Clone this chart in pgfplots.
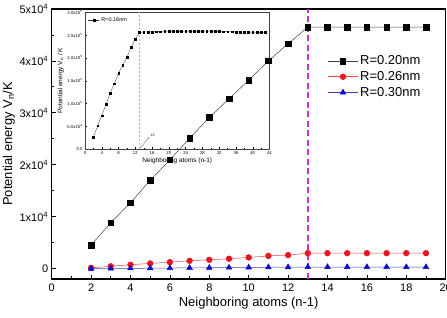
\documentclass[border=0pt]{standalone}
\usepackage{pgfplots}
\pgfplotsset{compat=1.18}
\usetikzlibrary{arrows.meta}
\usepackage{fontspec}
\setmainfont{Liberation Sans}
\setsansfont{Liberation Sans}

\definecolor{vline}{RGB}{204,51,204}
\definecolor{vlinelight}{RGB}{225,150,225}
\definecolor{sred}{RGB}{235,20,30}
\definecolor{sblue}{RGB}{10,10,200}

% inset series, R = 0.16 nm
\pgfplotstableread{
x y
2 26300
3 51700
4 73600
5 98500
6 123300
7 143600
8 167100
9 183900
10 201500
11 223400
12 240900
13 256200
14 256500
15 257000
16 257000
17 257500
18 257800
19 258000
20 258000
21 258000
22 258200
23 258300
24 258300
25 258300
26 258400
27 258400
28 258400
29 258300
30 258300
31 258300
32 258200
33 257800
34 257600
35 257500
36 257300
37 257100
38 256800
39 256600
40 256400
41 256200
42 256000
43 255800
}\tabRsixteen

% main series
\pgfplotstableread{
x y
2 4550
3 8820
4 12700
5 17000
6 20950
7 25100
8 29100
9 32700
10 36300
11 40000
12 43300
13 46500
14 46500
15 46500
16 46500
17 46500
18 46500
19 46500
}\tabRtwenty

\pgfplotstableread{
x y
2 150
3 450
4 750
5 1000
6 1250
7 1500
8 1700
9 1900
10 2150
11 2450
12 2600
13 2980
14 2980
15 2980
16 2980
17 2980
18 2980
19 2980
}\tabRtwentysix

\pgfplotstableread{
x y
2 0
3 20
4 50
5 80
6 110
7 140
8 170
9 200
10 230
11 260
12 280
13 300
14 300
15 300
16 300
17 300
18 300
19 300
}\tabRthirty

\begin{document}
\begin{tikzpicture}
\useasboundingbox (0,0) rectangle (447bp,318bp);

% ---------- inset ----------
\begin{axis}[
  at={(85bp,168.7bp)}, anchor=south west,
  scale only axis, width=184.5bp, height=137bp,
  xmin=0, xmax=44, ymin=0, ymax=300000,
  scaled y ticks=false, scaled x ticks=false,
  xtick={0,4,...,44}, minor x tick num=1,
  ytick={0,50000,100000,150000,200000,250000,300000},
  yticklabels={0.0,5.0x10\textsuperscript{4},1.0x10\textsuperscript{5},1.5x10\textsuperscript{5},2.0x10\textsuperscript{5},2.5x10\textsuperscript{5},3.0x10\textsuperscript{5}},
  minor y tick num=1,
  xtick pos=left, ytick pos=left,
  tick align=inside,
  major tick length=2bp, minor tick length=1.2bp,
  every tick/.style={black, line width=0.3pt},
  axis line style={line width=0.6pt, black!75},
  /pgf/number format/assume math mode=true,
  tick label style={font=\fontsize{4.3}{5}\selectfont},
  xticklabel style={yshift=1bp},
  yticklabel style={xshift=1bp},
  label style={font=\fontsize{6.5}{7.5}\selectfont},
  xlabel={Neighboring atoms (n-1)},
  ylabel={Potential energy V\textsubscript{n} / K},
  xlabel style={yshift=3.5bp},
  ylabel style={yshift=-3bp},
  legend style={at={(0.016,0.944)}, anchor=west, draw=none, fill=none,
    inner sep=0pt, font=\fontsize{5.5}{6.5}\selectfont},
  legend image code/.code={\draw[mark repeat=2,mark phase=2,#1]
    plot coordinates {(0bp,0bp)(5.5bp,0bp)(11bp,0bp)};},
]
\draw[vlinelight, dash pattern=on 2.5bp off 1.5bp, line width=0.8pt] (axis cs:13,0) -- (axis cs:13,300000);
\draw[black!70, line width=0.3pt, -{Latex[length=1.2bp]}] (axis cs:13.2,2800) -- (axis cs:15.3,27000);
\node[anchor=south west, inner sep=0pt, font=\fontsize{3.5}{4}\selectfont] at (axis cs:15.6,28000) {13};
\addplot[black!80, line width=0.3pt, mark=square*, mark size=0.9pt,
  mark options={black, solid}] table {\tabRsixteen};
\addlegendentry{R=0.16nm}
\end{axis}

% ---------- main axes ----------
\begin{axis}[
  at={(51.7bp,39bp)}, anchor=south west,
  scale only axis, width=394bp, height=270bp,
  xmin=0, xmax=20, ymin=-2000, ymax=50000,
  scaled y ticks=false,
  xtick={0,2,...,20}, minor x tick num=1,
  ytick={0,10000,20000,30000,40000,50000},
  yticklabels={0,1x10\textsuperscript{4},2x10\textsuperscript{4},3x10\textsuperscript{4},4x10\textsuperscript{4},5x10\textsuperscript{4}},
  minor y tick num=1,
  xtick pos=left, ytick pos=left,
  tick align=inside,
  major tick length=4bp, minor tick length=2.5bp,
  every tick/.style={black, line width=0.8pt},
  axis line style={line width=1.1pt, black},
  /pgf/number format/assume math mode=true,
  tick label style={font=\fontsize{11}{13}\selectfont},
  label style={font=\fontsize{13}{15}\selectfont},
  xticklabel style={yshift=-1bp},
  xlabel={Neighboring atoms (n-1)},
  ylabel={Potential energy V\textsubscript{n}/K},
  xlabel style={yshift=1bp},
  ylabel style={yshift=-2bp},
  legend style={at={(0.70,0.835)}, anchor=north west, draw=none, fill=none,
    inner sep=0pt, row sep=1.2bp, font=\fontsize{13}{15}\selectfont},
  legend cell align=left,
  legend image code/.code={\draw[mark repeat=2,mark phase=2,#1]
    plot coordinates {(0bp,0bp)(15bp,0bp)(30bp,0bp)};},
]
\draw[vline, dash pattern=on 6bp off 3.5bp, line width=1.5pt] (axis cs:13,-2000) -- (axis cs:13,50000);
\addplot[black!75, line width=0.5pt, mark=square*, mark size=2.8pt,
  mark options={black, solid}] table {\tabRtwenty};
\addlegendentry{R=0.20nm}
\addplot[sred!80, line width=0.5pt, mark=*, mark size=2.9pt,
  mark options={sred, solid}] table {\tabRtwentysix};
\addlegendentry{R=0.26nm}
\addplot[sblue!80, line width=0.5pt, mark=triangle*, mark size=3.3pt,
  mark options={sblue, solid}] table {\tabRthirty};
\addlegendentry{R=0.30nm}
\end{axis}
\end{tikzpicture}
\end{document}
